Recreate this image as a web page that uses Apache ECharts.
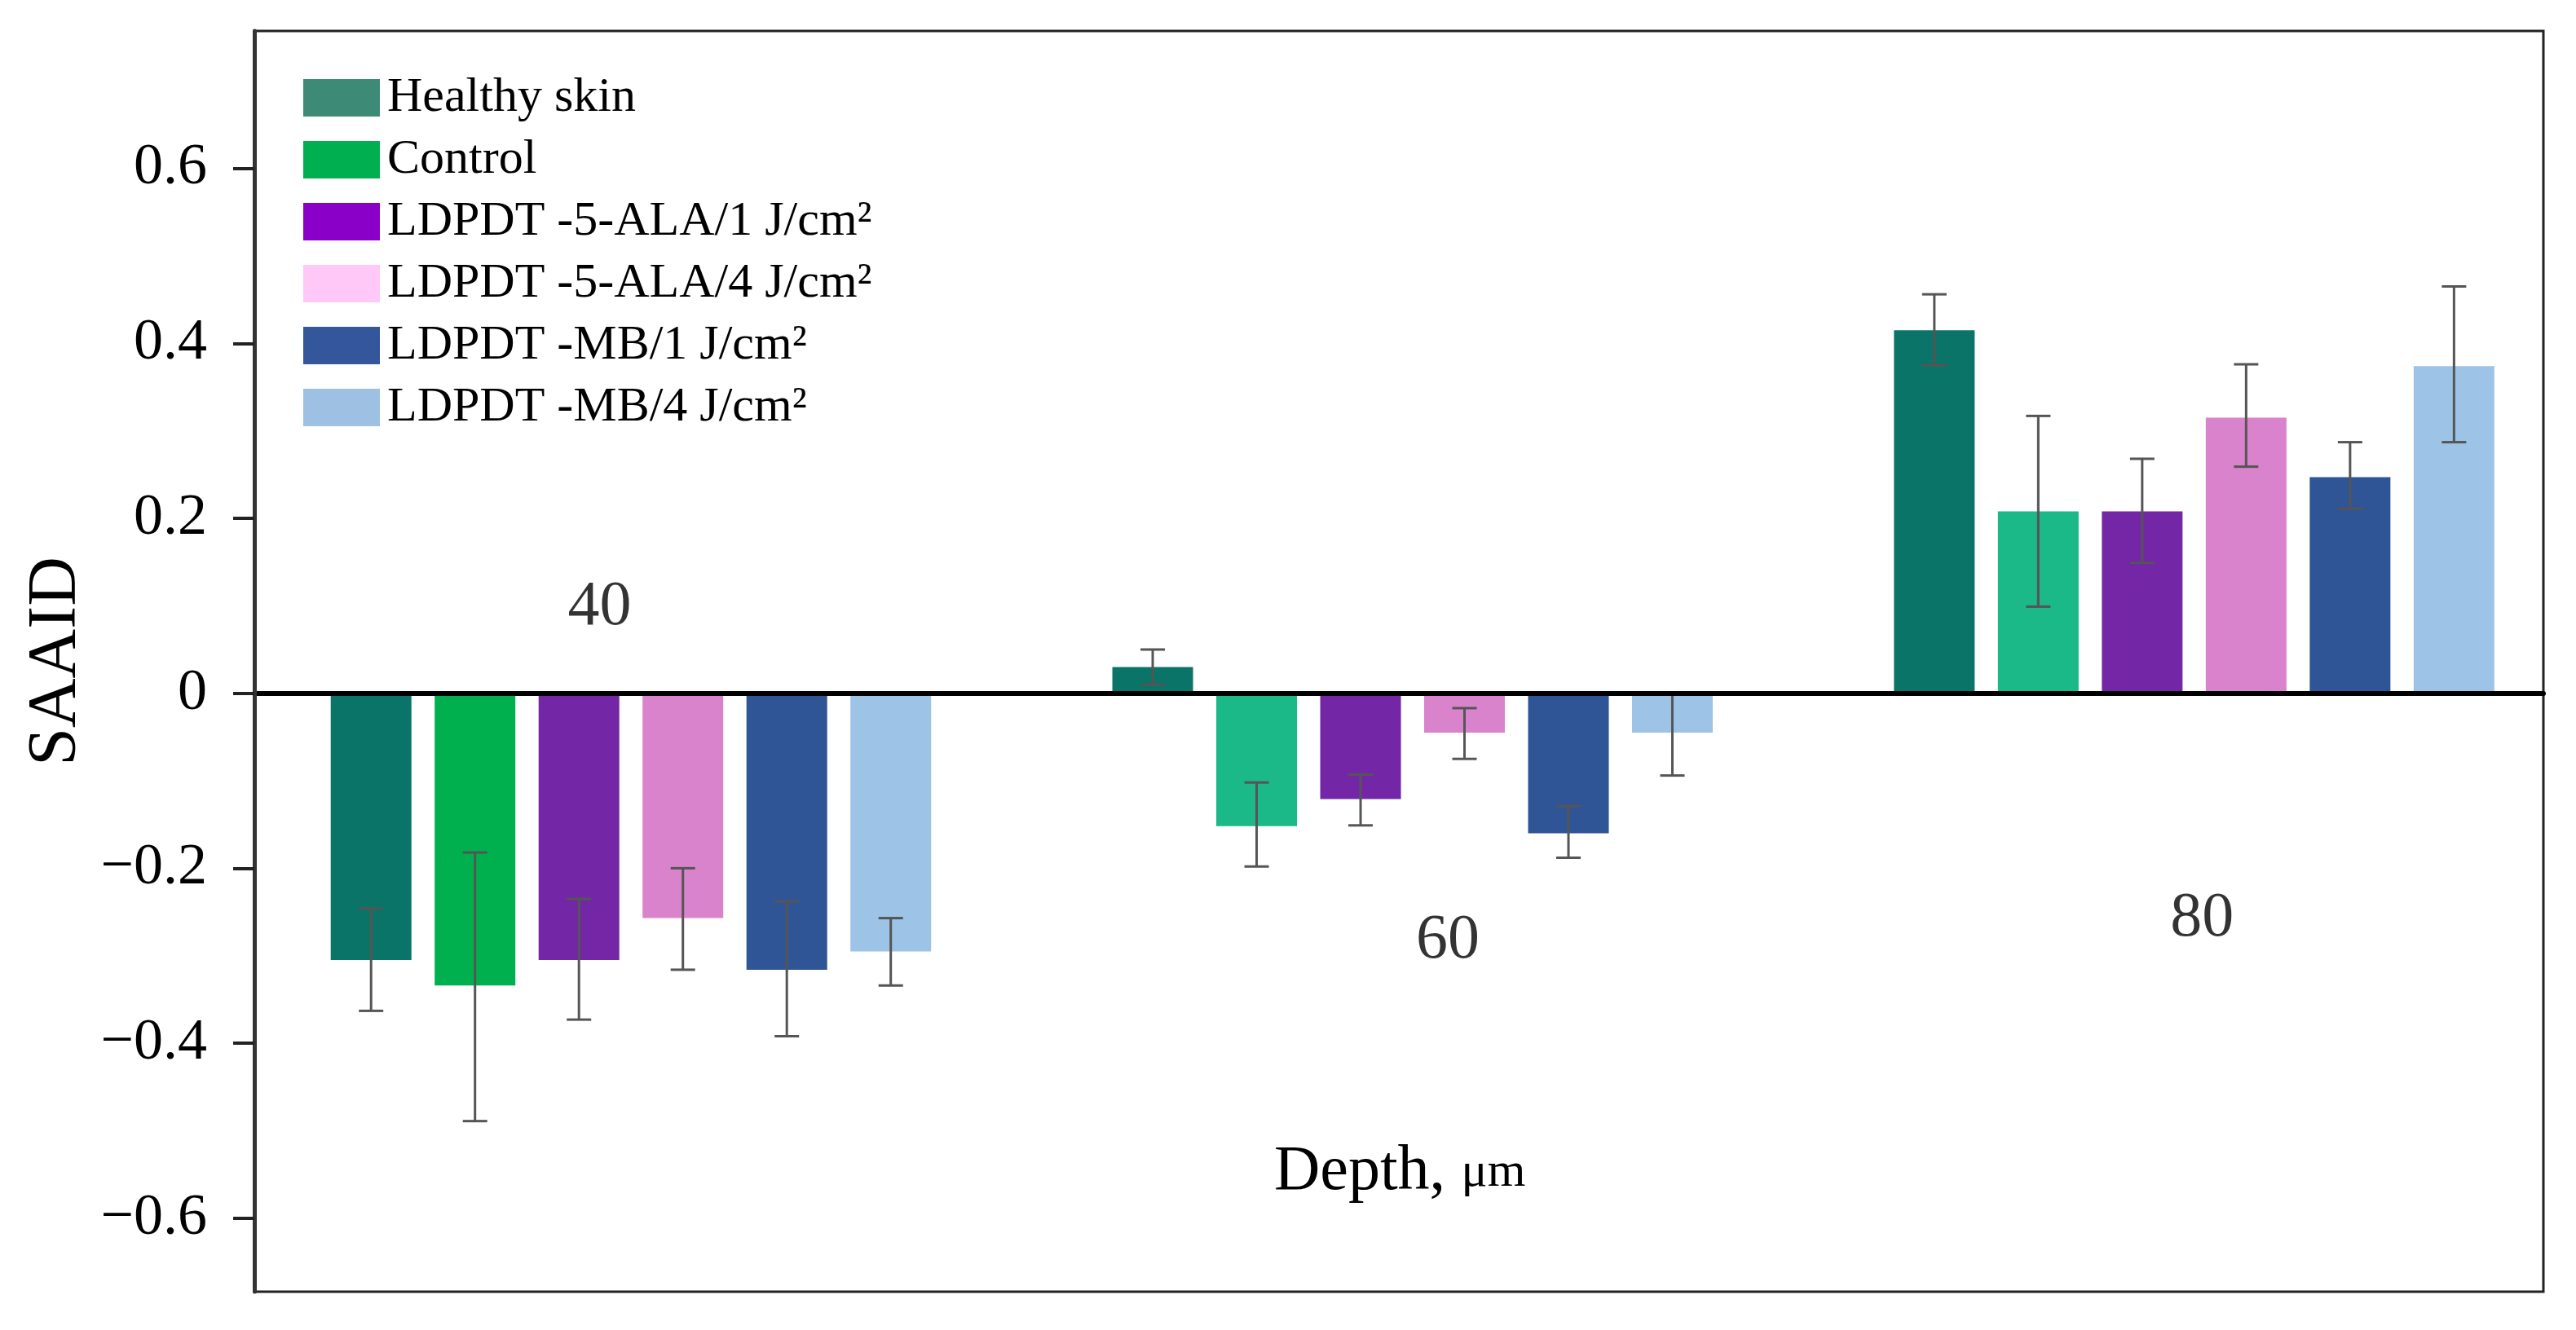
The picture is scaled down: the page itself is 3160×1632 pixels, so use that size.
<!DOCTYPE html>
<html>
<head>
<meta charset="utf-8">
<style>
  html, body { margin: 0; padding: 0; background: #fff; }
  #main { width: 3160px; height: 1632px; }
</style>
</head>
<body>
<div id="main"></div>
<script src="https://cdn.jsdelivr.net/npm/echarts@6/dist/echarts.min.js"></script>
<script>
  // depth groups (µm) and series
  const categories = ['40', '60', '80'];
  const seriesNames = [
    'Healthy skin',
    'Control',
    'LDPDT -5-ALA/1 J/cm\u00B2',
    'LDPDT -5-ALA/4 J/cm\u00B2',
    'LDPDT -MB/1 J/cm\u00B2',
    'LDPDT -MB/4 J/cm\u00B2',
  ];

  // mean SAAID per depth
  const healthy = [-0.305, 0.030, 0.415];
  const control = [-0.334, -0.152, 0.208];
  const ala1 = [-0.305, -0.121, 0.208];
  const ala4 = [-0.257, -0.045, 0.315];
  const mb1 = [-0.316, -0.160, 0.247];
  const mb4 = [-0.295, -0.045, 0.374];

  // error bar ends (low / high)
  const healthyLo = [-0.363, 0.010, 0.375];
  const healthyHi = [-0.246, 0.050, 0.456];
  const controlLo = [-0.489, -0.198, 0.099];
  const controlHi = [-0.182, -0.102, 0.317];
  const ala1Lo = [-0.373, -0.151, 0.149];
  const ala1Hi = [-0.235, -0.093, 0.268];
  const ala4Lo = [-0.316, -0.075, 0.259];
  const ala4Hi = [-0.200, -0.017, 0.376];
  const mb1Lo = [-0.392, -0.188, 0.211];
  const mb1Hi = [-0.238, -0.129, 0.287];
  const mb4Lo = [-0.334, -0.094, 0.287];
  const mb4Hi = [-0.257, 0.000, 0.465];

  const yTicks = [-0.6, -0.4, -0.2, 0, 0.2, 0.4, 0.6];

  const means = [healthy, control, ala1, ala4, mb1, mb4];
  const lows = [healthyLo, controlLo, ala1Lo, ala4Lo, mb1Lo, mb4Lo];
  const highs = [healthyHi, controlHi, ala1Hi, ala4Hi, mb1Hi, mb4Hi];

  const barColors = ['#0b7468', '#1bb888', '#7327a6', '#d883cc', '#2f5597', '#9dc3e6'];
  const controlFirstColor = '#00b04f';
  const legendColors = ['#3d8a76', '#00b050', '#8a00c8', '#ffc8f7', '#34569a', '#9dc0e3'];

  // depth labels sit inside the plot: offset from group centre, and height
  const depthLabelDx = [-0.04, 0.045, 0.01];
  const depthLabelY = [0.098, -0.283, -0.258];

  const FONT = 'Liberation Serif';
  const BAR_W = 99;
  const BAR_GAP = 28.5;

  var chartDom = document.getElementById('main');
  var myChart = echarts.init(chartDom);
  var option;

  const barSeries = seriesNames.map((name, k) => ({
    name: name,
    type: 'bar',
    barWidth: BAR_W,
    barGap: (BAR_GAP / BAR_W) * 100 + '%',
    z: 2,
    itemStyle: { color: barColors[k] },
    data: means[k].map((v, i) => {
      if (k === 1 && i === 0) {
        return { value: [i, v], itemStyle: { color: controlFirstColor } };
      }
      return [i, v];
    }),
  }));

  const errSeries = seriesNames.map((name, k) => ({
    name: name + ' err',
    type: 'custom',
    z: 4,
    silent: true,
    encode: { x: 0, y: [1, 2] },
    data: categories.map((c, i) => [i, lows[k][i], highs[k][i]]),
    renderItem: function (params, api) {
      const off = (k - 2.5) * (BAR_W + BAR_GAP);
      const p1 = api.coord([api.value(0), api.value(1)]);
      const p2 = api.coord([api.value(0), api.value(2)]);
      const x = p1[0] + off;
      const cap = 15;
      const style = { stroke: '#555', lineWidth: 3 };
      return {
        type: 'group',
        children: [
          { type: 'line', shape: { x1: x, y1: p1[1], x2: x, y2: p2[1] }, style: style },
          { type: 'line', shape: { x1: x - cap, y1: p1[1], x2: x + cap, y2: p1[1] }, style: style },
          { type: 'line', shape: { x1: x - cap, y1: p2[1], x2: x + cap, y2: p2[1] }, style: style },
        ],
      };
    },
  }));

  const labelSeries = {
    type: 'scatter',
    silent: true,
    symbolSize: 1,
    itemStyle: { color: 'rgba(0,0,0,0)' },
    z: 5,
    label: {
      show: true,
      position: 'inside',
      formatter: (p) => p.name,
      fontFamily: FONT,
      fontSize: 78,
      color: '#000',
    },
    data: categories.map((c, i) => ({
      name: c,
      value: [i + depthLabelDx[i], depthLabelY[i]],
    })),
  };

  option = {
    backgroundColor: '#fff',
    animation: false,
    grid: {
      left: 312,
      right: 40,
      top: 38,
      bottom: 47,
      containLabel: false,
      outerBoundsMode: 'none',
      show: true,
      borderColor: '#222',
      borderWidth: 3,
    },
    legend: {
      orient: 'vertical',
      left: 367,
      top: 85,
      icon: 'rect',
      itemWidth: 94,
      itemHeight: 46,
      itemGap: 16,
      selectedMode: false,
      textStyle: {
        fontFamily: FONT,
        fontSize: 60,
        lineHeight: 60,
        color: '#000',
        padding: [0, 0, 0, 4],
      },
      data: seriesNames.map((n, k) => ({ name: n, itemStyle: { color: legendColors[k] } })),
    },
    graphic: [
      {
        type: 'text',
        left: 1738 - 175,
        top: 1400,
        z: 10,
        style: {
          text: '{a|Depth, }{b|\u03BCm}',
          rich: {
            a: { fontFamily: FONT, fontSize: 78, fill: '#000' },
            b: { fontFamily: FONT, fontSize: 60, fill: '#000' },
          },
        },
      },
    ],
    xAxis: {
      type: 'value',
      min: -0.4818,
      max: 2.4468,
      z: 5,
      axisLine: { show: true, onZero: true, lineStyle: { color: '#000', width: 6 } },
      axisTick: { show: false },
      axisLabel: { show: false },
      splitLine: { show: false },
    },
    yAxis: {
      type: 'value',
      min: -0.684,
      max: 0.757,
      z: 6,
      axisLine: { show: true, onZero: false, lineStyle: { color: '#333', width: 5 } },
      axisTick: {
        show: true,
        inside: false,
        length: 26,
        lineStyle: { color: '#222', width: 4 },
        customValues: yTicks,
      },
      axisLabel: {
        margin: 58,
        fontFamily: FONT,
        fontSize: 72,
        color: '#000',
        customValues: yTicks,
        formatter: (v) => {
          if (Math.abs(v) < 1e-9) return '0';
          return v < 0 ? '\u2212' + Math.abs(v).toFixed(1) : v.toFixed(1);
        },
      },
      splitLine: { show: false },
      name: 'SAAID',
      nameLocation: 'middle',
      nameRotate: 90,
      nameGap: 200,
      nameTextStyle: { fontFamily: FONT, fontSize: 84, color: '#000', padding: [0, 0, 0, 0] },
    },
    series: barSeries.concat(errSeries, [labelSeries]),
  };

  option && myChart.setOption(option);

  window.onresize = function () {
    myChart.resize();
  };
</script>
</body>
</html>
